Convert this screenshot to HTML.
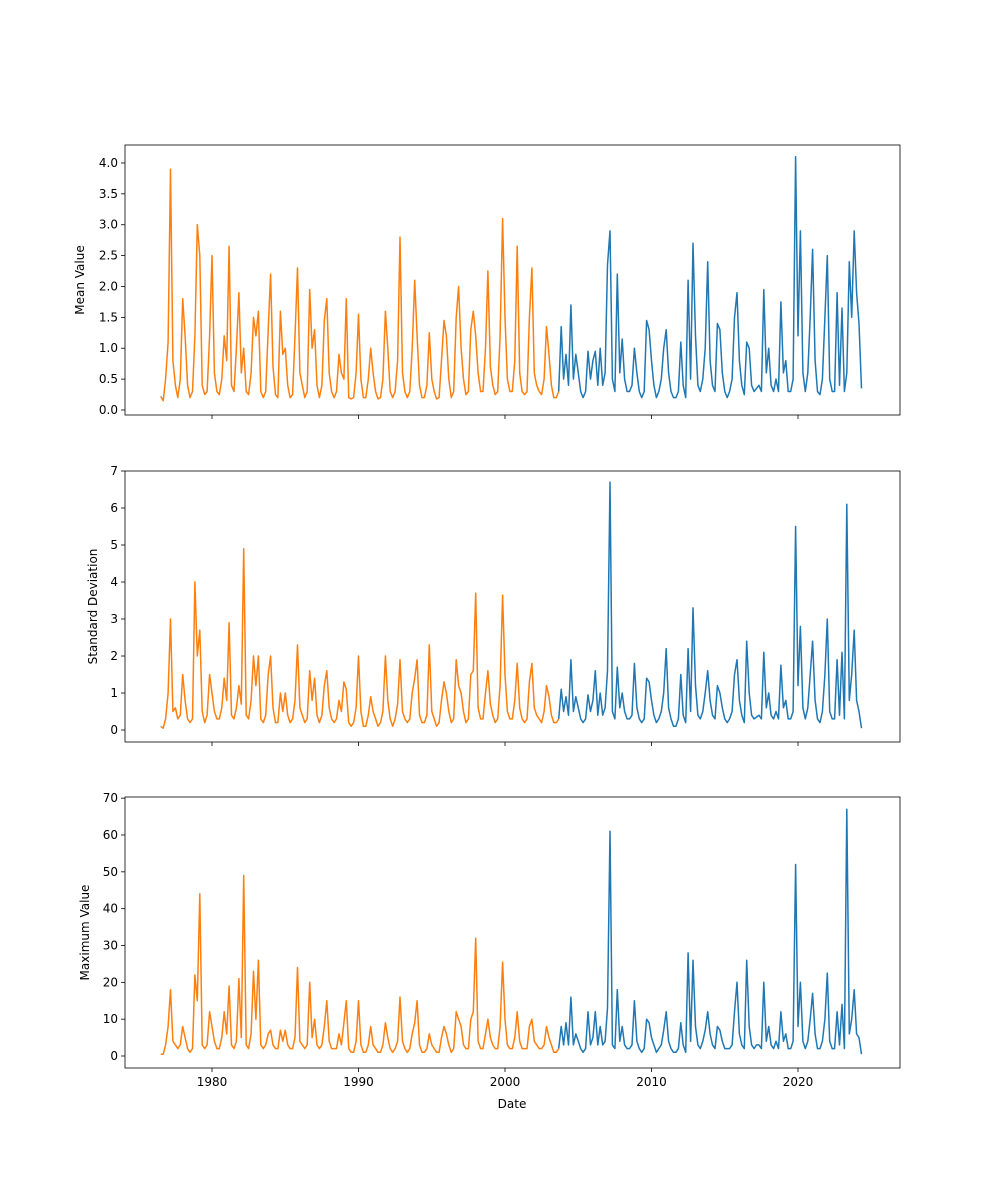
<!DOCTYPE html>
<html><head><meta charset="utf-8"><style>
body{margin:0;background:#fff}
svg{display:block;font-family:"DejaVu Sans","Liberation Sans",sans-serif}
</style></head><body>
<svg id="chart" width="1000" height="1200" xmlns="http://www.w3.org/2000/svg"></svg>
<script>
const startYear = 1976.5;
const stepYears = 1/6;
const splitIndex = 164;
const xTicks = [1980, 1990, 2000, 2010, 2020];
const meanTicks = ["0.0","0.5","1.0","1.5","2.0","2.5","3.0","3.5","4.0"];
const stdTicks = ["0","1","2","3","4","5","6","7"];
const maxTicks = ["0","10","20","30","40","50","60","70"];
const meanValues = [
.22,.15,.5,1.1,3.9,.8, .4,.2,.5,1.8,1.2,.4, .2,.3,1.2,3.0,2.5,.4, .25,.3,1.2,2.5,.6,.3,
.25,.5,1.2,.8,2.65,.4, .3,1.0,1.9,.6,1.0,.3, .25,.6,1.5,1.2,1.6,.3, .2,.3,1.3,2.2,.7,.25,
.2,1.6,.9,1.0,.4,.2, .25,1.2,2.3,.6,.4,.2, .3,1.95,1.0,1.3,.4,.2, .4,1.45,1.8,.6,.3,.2,
.3,.9,.6,.5,1.8,.2, .18,.2,.6,1.55,.5,.2, .2,.5,1.0,.6,.3,.18, .2,.5,1.6,1.0,.3,.2,
.3,.8,2.8,.6,.3,.2, .3,1.0,2.1,1.2,.4,.2, .2,.4,1.25,.5,.3,.18, .2,.8,1.45,1.2,.5,.2,
.3,1.5,2.0,1.0,.5,.25, .3,1.3,1.6,1.2,.6,.3, .3,1.0,2.25,.7,.4,.25, .3,1.2,3.1,1.5,.5,.3,
.3,.8,2.65,.6,.3,.25, .3,1.5,2.3,.6,.4,.3, .25,.5,1.35,.9,.4,.2, .2,.3,1.35,.5,.9,.4,
1.7,.5,.9,.6,.3,.2, .3,.95,.5,.8,.95,.4, 1.0,.4,.6,2.35,2.9,.5, .3,2.2,.6,1.15,.5,.3,
.3,.4,1.0,.6,.3,.2, .3,1.45,1.3,.8,.4,.2, .3,.5,1.0,1.3,.6,.3, .2,.2,.3,1.1,.4,.2,
2.1,.5,2.7,1.2,.4,.3, .5,1.0,2.4,.8,.4,.3, 1.4,1.3,.6,.3,.2,.3, .5,1.5,1.9,.8,.4,.25,
1.1,1.0,.4,.3,.35,.4, .3,1.95,.6,1.0,.4,.3, .5,.3,1.75,.6,.8,.3, .3,.5,4.1,1.2,2.9,.6,
.3,.6,1.5,2.6,.8,.3, .25,.5,1.5,2.5,.5,.3, .3,1.9,.4,1.65,.3,.6, 2.4,1.5,2.9,1.9,1.4,.35];
const stdValues = [
.1,.05,.3,1.0,3.0,.5, .6,.3,.4,1.5,.8,.3, .2,.3,4.0,2.0,2.7,.5, .2,.4,1.5,1.0,.5,.3,
.3,.6,1.4,.8,2.9,.4, .3,.6,1.2,.7,4.9,.4, .3,.8,2.0,1.2,2.0,.3, .2,.4,1.5,2.0,.6,.2,
.2,1.0,.5,1.0,.4,.2, .3,.8,2.3,.6,.4,.2, .3,1.6,.8,1.4,.4,.2, .4,1.2,1.6,.6,.3,.2,
.3,.8,.5,1.3,1.1,.2, .1,.2,.6,2.0,.5,.1, .1,.4,.9,.5,.3,.1, .2,.5,2.0,.8,.3,.1,
.3,.7,1.9,.5,.3,.2, .3,1.0,1.4,1.9,.4,.2, .2,.4,2.3,.5,.3,.1, .2,.8,1.3,1.0,.5,.2,
.3,1.9,1.2,1.0,.5,.2, .3,1.5,1.6,3.7,.6,.3, .3,1.0,1.6,.7,.4,.2, .3,1.2,3.65,1.5,.5,.3,
.3,.8,1.8,.6,.3,.2, .3,1.3,1.8,.6,.4,.3, .2,.5,1.2,.9,.4,.2, .2,.3,1.1,.5,.9,.4,
1.9,.5,.9,.6,.3,.2, .3,.95,.5,.8,1.6,.4, 1.0,.4,.6,1.6,6.7,.5, .3,1.7,.6,1.0,.5,.3,
.3,.4,1.8,.6,.3,.2, .3,1.4,1.3,.8,.4,.2, .3,.5,1.0,2.2,.6,.3, .1,.1,.3,1.5,.4,.2,
2.2,.5,3.3,1.2,.4,.3, .5,1.0,1.6,.8,.4,.3, 1.2,1.0,.6,.3,.2,.3, .5,1.5,1.9,.8,.4,.2,
2.4,1.0,.4,.3,.35,.4, .3,2.1,.6,1.0,.4,.3, .5,.3,1.75,.6,.8,.3, .3,.5,5.5,1.2,2.8,.6,
.3,.6,1.5,2.4,.8,.3, .2,.5,1.5,3.0,.5,.3, .3,1.9,.4,2.1,.3,6.1, .8,1.5,2.7,.8,.5,.05];
const maxValues = [
.5,.5,3,8,18,4, 3,2,3,8,5,2, 1,2,22,15,44,3, 2,3,12,8,4,2,
2,5,12,6,19,3, 2,4,21,5,49,3, 2,6,23,10,26,3, 2,3,6,7,3,2,
2,7,4,7,3,2, 2,5,24,4,3,2, 3,20,5,10,3,2, 3,8,15,4,2,2,
2,6,3,9,15,2, 1,1,4,15,3,1, 1,3,8,3,2,1, 1,3,9,5,2,1,
2,4,16,4,2,1, 2,6,9,15,3,1, 1,2,6,3,2,1, 1,5,8,6,3,1,
2,12,10,8,3,2, 2,10,12,32,4,2, 2,6,10,5,3,2, 2,8,25.5,10,3,2,
2,5,12,4,2,2, 2,8,10,4,3,2, 2,3,8,5,3,1, 1,2,8,3,9,3,
16,3,6,4,2,1, 2,12,3,5,12,3, 8,3,4,13,61,3, 2,18,4,8,3,2,
2,3,15,4,2,1, 2,10,9,5,3,1, 2,3,7,12,4,2, 1,1,2,9,3,1,
28,4,26,8,3,2, 4,7,12,6,3,2, 8,7,4,2,2,2, 3,12,20,6,3,2,
26,8,3,2,3,3, 2,20,4,8,3,2, 4,2,12,4,6,2, 2,4,52,8,20,4,
2,4,10,17,6,2, 2,4,10,22.5,4,2, 2,12,3,14,2,67, 6,10,18,6,5,.5];

const NS = "http://www.w3.org/2000/svg";
const svg = document.getElementById("chart");
function mk(tag, attrs, parent) {
  const e = document.createElementNS(NS, tag);
  for (const k in attrs) e.setAttribute(k, attrs[k]);
  (parent || svg).appendChild(e);
  return e;
}
const X0 = 125, X1 = 900;
function xScale(year) { return 212 + (year - 1980) * 14.65; }

const panels = [
  {name:"mean", top:145, bottom:415, ymin:-0.081, ymax:4.291, ticks:meanTicks, values:meanValues, label:"Mean Value", lx:84},
  {name:"std", top:471, bottom:742, ymin:-0.324, ymax:7.0, ticks:stdTicks, values:stdValues, label:"Standard Deviation", lx:97},
  {name:"max", top:797, bottom:1068, ymin:-3.26, ymax:70.32, ticks:maxTicks, values:maxValues, label:"Maximum Value", lx:89}
];

panels.forEach((p, pi) => {
  const g = mk("g", {});
  
  
  const yScale = v => p.bottom - (v - p.ymin) / (p.ymax - p.ymin) * (p.bottom - p.top);
  // y ticks
  p.ticks.forEach(t => {
    const y = yScale(parseFloat(t));
    mk("line", {x1:X0-4, x2:X0, y1:y, y2:y, stroke:"#000", "stroke-width":0.8}, g);
    const tx = mk("text", {x:X0-7, y:y+4, "font-size":"12", "text-anchor":"end", fill:"#000"}, g);
    tx.textContent = t;
    
    
  });
  // x ticks
  xTicks.forEach(yr => {
    const x = xScale(yr);
    mk("line", {x1:x, x2:x, y1:p.bottom, y2:p.bottom+4, stroke:"#000", "stroke-width":0.8}, g);
    if (pi === 2) {
      const tx = mk("text", {x:x, y:p.bottom+18, "font-size":"12", "text-anchor":"middle", fill:"#000"}, g);
      tx.textContent = yr;
      
      
    }
  });
  // series
  const pts = p.values.map((v, i) => [xScale(startYear + i * stepYears), yScale(v)]);
  const toPath = arr => arr.map((q, i) => (i ? "L" : "M") + q[0].toFixed(1) + "," + q[1].toFixed(1)).join("");
  const blue = mk("path", {d:toPath(pts.slice(splitIndex - 1)), fill:"none", stroke:"#1f77b4", "stroke-width":1.5, "stroke-linejoin":"round"}, g);
  
  
  const orange = mk("path", {d:toPath(pts.slice(0, splitIndex)), fill:"none", stroke:"#ff7f0e", "stroke-width":1.5, "stroke-linejoin":"round"}, g);
  
  
  // frame
  const fr = mk("rect", {x:X0, y:p.top, width:X1-X0, height:p.bottom-p.top, fill:"none", stroke:"#000", "stroke-width":0.8}, g);
  
  
  // y label
  const cy = (p.top + p.bottom) / 2;
  const lb = mk("text", {x:p.lx, y:cy, "font-size":"12", "text-anchor":"middle", transform:"rotate(-90 " + p.lx + " " + cy + ")"}, g);
  lb.textContent = p.label;
  
  
});
const xl = mk("text", {x:512, y:1108, "font-size":"12", "text-anchor":"middle"});
xl.textContent = "Date";


</script>
</body></html>
